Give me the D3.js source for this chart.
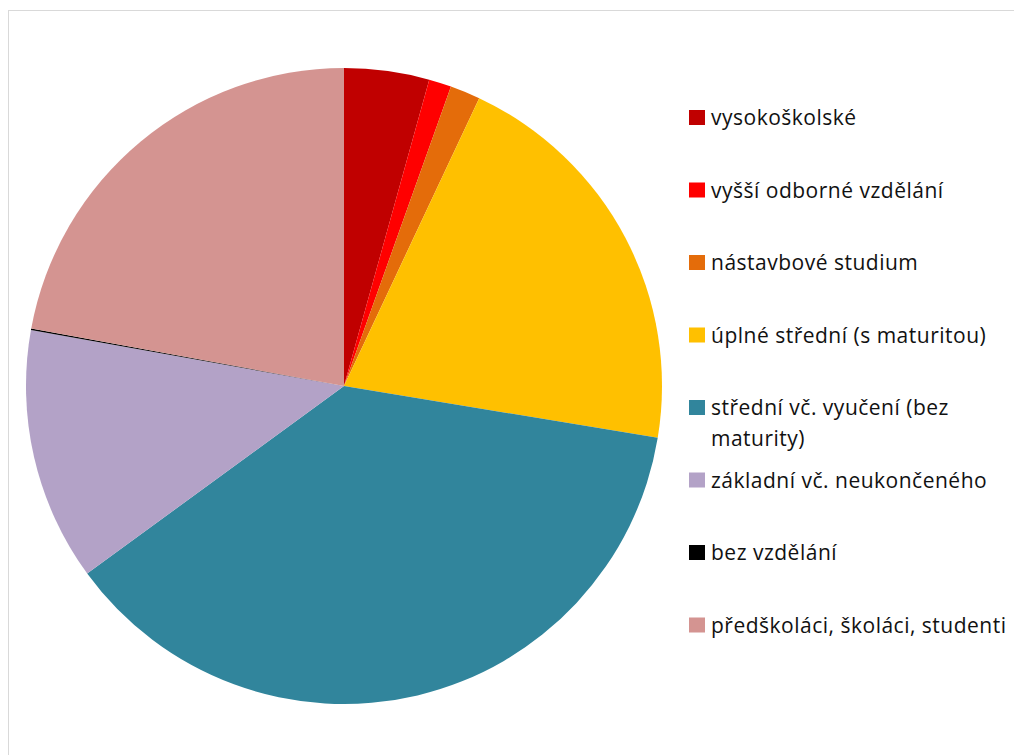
<!DOCTYPE html>
<html>
<head>
<meta charset="utf-8">
<script src="https://cdn.jsdelivr.net/npm/d3@7"></script>
<style>
  body { margin: 0; background: #fff; }
  svg { display: block; }
  .legend text { font-family: "Open Sans", "Noto Sans", sans-serif; font-size: 21px; letter-spacing: 0.5px; fill: #111; }
</style>
</head>
<body>
<div class="viz"></div>
<script>
var categories = [
  'vysokoškolské',
  'vyšší odborné vzdělání',
  'nástavbové studium',
  'úplné střední (s maturitou)',
  'střední vč. vyučení (bez maturity)',
  'základní vč. neukončeného',
  'bez vzdělání',
  'předškoláci, školáci, studenti'
]
var shares = [4.32, 1.14, 1.53, 20.62, 37.36, 12.85, 0.08, 22.11]
var colors = ['#C00000', '#FF0000', '#E46C0A', '#FFC000', '#31859C', '#B3A2C7', '#000000', '#D49491']

var width = 1014,
    height = 755,
    radius = 318,
    cx = 344,
    cy = 386;

var svg = d3.select('.viz').append('svg')
  .attr('width', width)
  .attr('height', height)

// chart area frame (only top/left edges fall inside the window)
svg.append('rect')
  .attr('x', 8.5)
  .attr('y', 10.5)
  .attr('width', width + 20)
  .attr('height', height + 20)
  .attr('fill', 'none')
  .attr('stroke', '#d9d9d9')

var data = categories.map(function(c, i){
  return {label: c, value: shares[i], color: colors[i]}
})

var pie = d3.pie()
  .sort(null)
  .value(function(d){ return d.value })

var arc = d3.arc()
  .innerRadius(0)
  .outerRadius(radius)

svg.append('g')
  .attr('transform', 'translate(' + cx + ',' + cy + ')')
  .selectAll('path')
  .data(pie(data))
  .enter()
  .append('path')
  .attr('d', arc)
  .attr('fill', function(d){ return d.data.color })

/* legend */
var legendY = d3.scalePoint()
  .domain(categories)
  .range([110, 617.5])

var legend = svg.append('g')
  .attr('class', 'legend')

var items = legend.selectAll('g')
  .data(data)
  .enter()
  .append('g')
  .attr('transform', function(d){ return 'translate(689,' + legendY(d.label) + ')' })

items.append('rect')
  .attr('width', 16)
  .attr('height', 15)
  .attr('fill', function(d){ return d.color })

items.append('text')
  .attr('x', 22)
  .attr('y', 15)
  .each(function(d){
    var text = d3.select(this),
        words = d.label.split(' '),
        line = [],
        tspan = text.append('tspan').attr('x', 22).attr('dy', 0)
    words.forEach(function(w){
      line.push(w)
      tspan.text(line.join(' '))
      if (tspan.node().getComputedTextLength() > 300 && line.length > 1) {
        line.pop()
        tspan.text(line.join(' '))
        line = [w]
        tspan = text.append('tspan').attr('x', 22).attr('dy', 31).text(w)
      }
    })
  })
</script>
</body>
</html>
